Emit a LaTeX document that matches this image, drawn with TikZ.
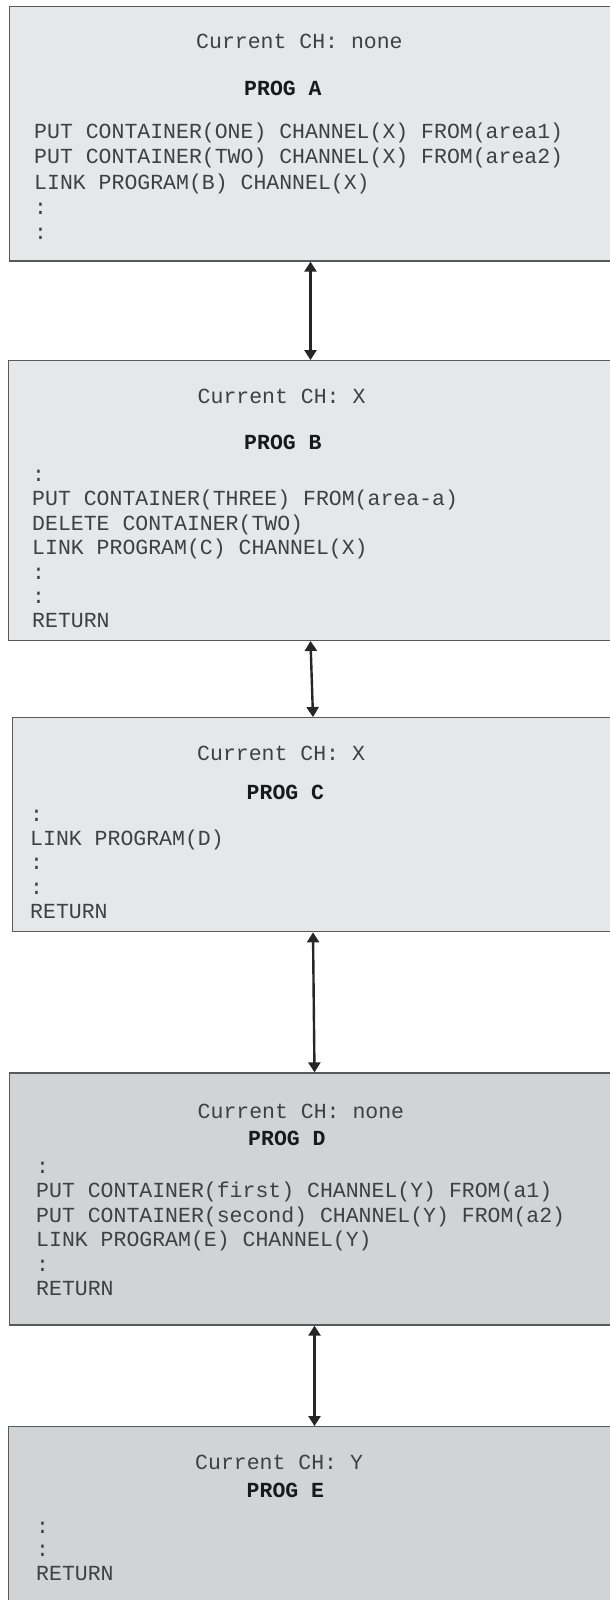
\documentclass[tikz,border=0pt]{standalone}
\usepackage{fontspec}
\setmonofont{Liberation Mono}
\usetikzlibrary{arrows.meta}
\definecolor{boxlight}{HTML}{E6E7E8}
\definecolor{boxdark}{HTML}{D1D3D4}
\definecolor{boxline}{HTML}{58595B}
\definecolor{codegray}{HTML}{404040}
\tikzset{progbox/.style = {draw=boxline, line width=1.3pt, rectangle, inner sep=0pt},
         codeline/.style = {anchor=base west, inner sep=0pt, text=codegray,
                            font=\ttfamily\fontsize{21.5}{24}\selectfont},
         progname/.style = {codeline, text=black!90,
                            font=\ttfamily\bfseries\fontsize{21.5}{24}\selectfont},
         callarrow/.style = {{Triangle[length=10pt,width=12pt]}-{Triangle[length=10pt,width=12pt]},
                             line width=2.4pt, black!85}}

\begin{document}
\begin{tikzpicture}[x=1pt, y=-1pt]
  \useasboundingbox (0,0) rectangle (610,1600);
  \clip (0,0) rectangle (610,1600);

  % the five programs
  \node [progbox, fill=boxlight, minimum width=602.4pt, minimum height=254.3pt] (boxA) at (310.5,133.85) {};
  \node [progbox, fill=boxlight, minimum width=604.4pt, minimum height=279.6pt] (boxB) at (310.5,500.5) {};
  \node [progbox, fill=boxlight, minimum width=601.4pt, minimum height=214pt] (boxC) at (313,824.7) {};
  \node [progbox, fill=boxdark, minimum width=610pt, minimum height=252pt] (boxD) at (314.5,1199) {};
  \node [progbox, fill=boxdark, minimum width=611.8pt, minimum height=293.3pt] (boxE) at (314.5,1573.35) {};

  % PROG A
  \node [codeline] (chA) at (196,48.2) {Current CH: none};
  \node [progname] (progA) at (244,95.8) {PROG A};
  \foreach \txt [count=\i] in {PUT CONTAINER(ONE) CHANNEL(X) FROM(area1),
                               PUT CONTAINER(TWO) CHANNEL(X) FROM(area2),
                               LINK PROGRAM(B) CHANNEL(X), :, :}
    \node [codeline] (lineA\i) at (34,{138.2+(\i-1)*25.4}) {\txt};

  % PROG B
  \node [codeline] (chB) at (197.5,403.2) {Current CH: X};
  \node [progname] (progB) at (244,449.2) {PROG B};
  \foreach \txt [count=\i] in {:, PUT CONTAINER(THREE) FROM(area-a),
                               DELETE CONTAINER(TWO),
                               LINK PROGRAM(C) CHANNEL(X), :, :, RETURN}
    \node [codeline] (lineB\i) at (32,{481.5+(\i-1)*24.4}) {\txt};

  % PROG C
  \node [codeline] (chC) at (197,760.8) {Current CH: X};
  \node [progname] (progC) at (246.5,799.2) {PROG C};
  \foreach \txt [count=\i] in {:, LINK PROGRAM(D), :, :, RETURN}
    \node [codeline] (lineC\i) at (30,{821.5+(\i-1)*24.2}) {\txt};

  % PROG D
  \node [codeline] (chD) at (197.5,1118.2) {Current CH: none};
  \node [progname] (progD) at (248,1145.8) {PROG D};
  \foreach \txt [count=\i] in {:, PUT CONTAINER(first) CHANNEL(Y) FROM(a1),
                               PUT CONTAINER(second) CHANNEL(Y) FROM(a2),
                               LINK PROGRAM(E) CHANNEL(Y), :, RETURN}
    \node [codeline] (lineD\i) at (36,{1173.4+(\i-1)*24.4}) {\txt};

  % PROG E
  \node [codeline] (chE) at (195,1469.5) {Current CH: Y};
  \node [progname] (progE) at (246.5,1497.5) {PROG E};
  \foreach \txt [count=\i] in {:, :, RETURN}
    \node [codeline] (lineE\i) at (36,{1533.5+(\i-1)*23.4}) {\txt};

  % calls between the programs
  \draw [callarrow] (boxA.south) -- (boxB.north);
  \draw [callarrow] (boxB.south) -- (boxC.north);
  \draw [callarrow] (boxC.south) -- (boxD.north);
  \draw [callarrow] (boxD.south) -- (boxE.north);
\end{tikzpicture}
\end{document}
